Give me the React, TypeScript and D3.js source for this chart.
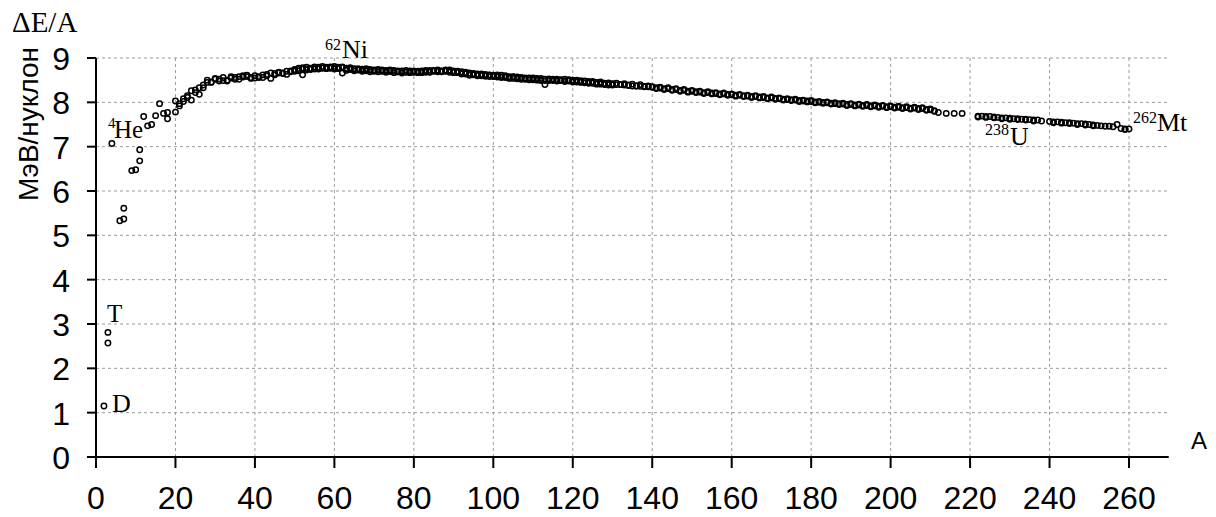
import React from "react";
import * as d3 from "d3";

// Light nuclei (mass number A, binding energy per nucleon, MeV)
const lightA = [2, 3, 3, 4, 6, 7, 7, 9, 10, 11, 11, 12, 13, 14, 15, 16, 17, 18, 18, 20];
const lightE = [1.15, 2.81, 2.57, 7.07, 5.33, 5.61, 5.37, 6.46, 6.48, 6.93, 6.68, 7.68, 7.47, 7.5, 7.7, 7.97, 7.75, 7.77, 7.63, 7.78];

// Main band, one value per A starting at A = 20 (up to A = 211)
const bandStartA = 20;
const bandE = [
  8.03, 7.97, 8.08, 8.11, 8.26, 8.22, 8.33, 8.33, 8.45, 8.45, // 20-29
  8.52, 8.48, 8.49, 8.5, 8.58, 8.52, 8.52, 8.57, 8.61, 8.56, // 30-39
  8.6, 8.58, 8.62, 8.6, 8.66, 8.62, 8.66, 8.66, 8.7, 8.71, // 40-49
  8.74, 8.74, 8.78, 8.76, 8.76, 8.77, 8.79, 8.77, 8.79, 8.78, // 50-59
  8.78, 8.77, 8.8, 8.75, 8.78, 8.74, 8.76, 8.73, 8.76, 8.72, // 60-69
  8.73, 8.72, 8.73, 8.71, 8.73, 8.7, 8.71, 8.69, 8.72, 8.69, // 70-79
  8.71, 8.7, 8.71, 8.7, 8.72, 8.7, 8.71, 8.71, 8.73, 8.71, // 80-89
  8.71, 8.69, 8.69, 8.66, 8.66, 8.64, 8.64, 8.62, 8.63, 8.61, // 90-99
  8.61, 8.6, 8.61, 8.58, 8.58, 8.57, 8.57, 8.55, 8.55, 8.55, // 100-109
  8.55, 8.54, 8.54, 8.52, 8.53, 8.51, 8.52, 8.5, 8.52, 8.5, // 110-119
  8.5, 8.49, 8.49, 8.47, 8.47, 8.45, 8.45, 8.44, 8.43, 8.42, // 120-129
  8.42, 8.4, 8.4, 8.39, 8.38, 8.37, 8.37, 8.36, 8.35, 8.35, // 130-139
  8.34, 8.33, 8.32, 8.31, 8.31, 8.29, 8.29, 8.27, 8.27, 8.25, // 140-149
  8.25, 8.24, 8.23, 8.22, 8.22, 8.21, 8.2, 8.19, 8.19, 8.18, // 150-159
  8.17, 8.16, 8.16, 8.15, 8.14, 8.13, 8.13, 8.12, 8.11, 8.1, // 160-169
  8.1, 8.09, 8.08, 8.07, 8.06, 8.06, 8.05, 8.04, 8.03, 8.03, // 170-179
  8.02, 8.01, 8.0, 8.0, 7.99, 7.98, 7.97, 7.97, 7.96, 7.95, // 180-189
  7.95, 7.94, 7.94, 7.93, 7.93, 7.92, 7.92, 7.91, 7.91, 7.9, // 190-199
  7.9, 7.89, 7.89, 7.88, 7.88, 7.87, 7.87, 7.86, 7.86, 7.84, // 200-209
  7.83, 7.81, // 210-211
];

// Second isobar per A, starting at A = 21 (up to A = 211)
const isobarStartA = 21;
const isobarE = [
  7.92, 8.02, 8.15, 8.05, 8.28, 8.18, 8.39, 8.5, 8.46, // 21-29
  8.54, 8.52, 8.56, 8.48, 8.55, 8.56, 8.58, 8.6, 8.58, 8.54, // 30-39
  8.55, 8.56, 8.56, 8.63, 8.54, 8.65, 8.68, 8.65, 8.63, 8.69, // 40-49
  8.7, 8.71, 8.62, 8.73, 8.77, 8.75, 8.77, 8.78, 8.77, 8.77, // 50-59
  8.75, 8.79, 8.66, 8.77, 8.74, 8.76, 8.73, 8.75, 8.71, 8.74, // 60-69
  8.7, 8.74, 8.7, 8.72, 8.7, 8.72, 8.69, 8.71, 8.68, 8.71, // 70-79
  8.68, 8.69, 8.67, 8.68, 8.69, 8.71, 8.69, 8.7, 8.7, 8.73, // 80-89
  8.69, 8.7, 8.66, 8.68, 8.63, 8.65, 8.62, 8.64, 8.61, 8.62, // 90-99
  8.59, 8.62, 8.58, 8.6, 8.56, 8.58, 8.55, 8.56, 8.53, 8.54, // 100-109
  8.52, 8.53, 8.51, 8.4, 8.51, 8.52, 8.5, 8.51, 8.49, 8.51, // 110-119
  8.48, 8.5, 8.47, 8.48, 8.45, 8.47, 8.44, 8.46, 8.42, 8.44, // 120-129
  8.41, 8.43, 8.4, 8.42, 8.39, 8.41, 8.37, 8.4, 8.36, 8.37, // 130-139
  8.35, 8.31, 8.34, 8.29, 8.33, 8.27, 8.31, 8.25, 8.29, 8.23, // 140-149
  8.27, 8.22, 8.25, 8.2, 8.24, 8.19, 8.22, 8.17, 8.21, 8.16, // 150-159
  8.19, 8.14, 8.18, 8.13, 8.16, 8.11, 8.15, 8.1, 8.13, 8.08, // 160-169
  8.12, 8.07, 8.1, 8.05, 8.08, 8.04, 8.07, 8.02, 8.05, 8.01, // 170-179
  8.04, 7.99, 8.02, 7.98, 8.01, 7.96, 7.99, 7.95, 7.98, 7.93, // 180-189
  7.97, 7.92, 7.96, 7.91, 7.95, 7.9, 7.94, 7.89, 7.93, 7.88, // 190-199
  7.92, 7.87, 7.91, 7.86, 7.9, 7.85, 7.89, 7.84, 7.88, 7.82, // 200-209
  7.85, 7.8, // 210-211
];

// Third isobar set in the dense middle region, starting at A = 50 (up to A = 130)
const thirdStartA = 50;
const thirdE = [
  8.72, 8.77, 8.75, 8.79, 8.74, 8.8, 8.75, 8.81, 8.76, 8.8, // 50-59
  8.81, 8.76, 8.78, 8.72, 8.76, 8.71, 8.74, 8.7, 8.73, 8.69, // 60-69
  8.71, 8.69, 8.71, 8.68, 8.7, 8.67, 8.69, 8.66, 8.69, 8.67, // 70-79
  8.69, 8.67, 8.69, 8.72, 8.68, 8.72, 8.73, 8.69, 8.71, 8.68, // 80-89
  8.67, 8.67, 8.64, 8.64, 8.61, 8.62, 8.6, 8.6, 8.59, 8.58, // 90-99
  8.58, 8.57, 8.56, 8.56, 8.54, 8.54, 8.53, 8.52, 8.52, 8.51, // 100-109
  8.51, 8.5, 8.49, 8.49, 8.49, 8.49, 8.48, 8.49, 8.47, 8.48, // 110-119
  8.46, 8.46, 8.45, 8.44, 8.43, 8.43, 8.41, 8.41, 8.4, 8.39, // 120-129
  8.39, // 130
];

// Sparse and heavy region
const heavyA = [212, 214, 216, 218,
  222, 223, 224, 225, 226, 227, 228, 229, 230, 231, 232, 233, 234, 235, 236, 237, 238, 240,
  241, 242, 243, 244, 245, 246, 247, 248, 249, 250, 251, 252, 253, 254, 255, 256, 257, 258, 259, 260];
const heavyE = [7.77, 7.75, 7.75, 7.75,
  7.69, 7.69, 7.68, 7.68, 7.67, 7.66, 7.65, 7.65, 7.64, 7.63, 7.63, 7.62, 7.62, 7.61, 7.6, 7.6, 7.58, 7.57,
  7.56, 7.56, 7.55, 7.54, 7.54, 7.53, 7.52, 7.52, 7.51, 7.5, 7.49, 7.48, 7.47, 7.46, 7.46, 7.45, 7.5, 7.41, 7.4, 7.4];
const heavyIsoA = [222, 224, 226, 228, 230, 232, 234, 236, 241, 243, 245, 247, 249, 251, 259];
const heavyIsoE = [7.67, 7.66, 7.65, 7.63, 7.62, 7.61, 7.6, 7.58, 7.54, 7.53, 7.52, 7.5, 7.49, 7.47, 7.39];

const xTicks = [0, 20, 40, 60, 80, 100, 120, 140, 160, 180, 200, 220, 240, 260];
const yTicks = [0, 1, 2, 3, 4, 5, 6, 7, 8, 9];

const W = 1216;
const H = 517;

export default function App() {
  const x = d3.scaleLinear().domain([0, 260]).range([96, 1129]);
  const y = d3.scaleLinear().domain([0, 9]).range([457, 58]);

  const pts: [number, number][] = [];
  lightA.forEach((a, i) => pts.push([a, lightE[i]]));
  bandE.forEach((e, i) => pts.push([bandStartA + i, e]));
  isobarE.forEach((e, i) => pts.push([isobarStartA + i, e]));
  thirdE.forEach((e, i) => pts.push([thirdStartA + i, e]));
  heavyA.forEach((a, i) => pts.push([a, heavyE[i]]));
  heavyIsoA.forEach((a, i) => pts.push([a, heavyIsoE[i]]));

  const xEnd = x(270);
  const xStart = x.range()[0] - 9;
  const sans = "'Liberation Sans', Arial, sans-serif";
  const serif = "'Liberation Serif', 'Times New Roman', serif";

  return (
    <svg width={W} height={H} style={{ position: "absolute", left: 0, top: 0, background: "#fff" }}>
      <rect width={W} height={H} fill="#fff" />
      {/* grid */}
      <g stroke="#9a9a9a" strokeWidth={1} strokeDasharray="3,3">
        {yTicks.filter((t) => t > 0).map((t) => (
          <line key={"gy" + t} x1={x(0)} x2={xEnd} y1={y(t)} y2={y(t)} />
        ))}
        {xTicks.filter((t) => t > 0).map((t) => (
          <line key={"gx" + t} x1={x(t)} x2={x(t)} y1={y(9)} y2={y(0)} />
        ))}
      </g>
      {/* axes */}
      <g stroke="#000" strokeWidth={2}>
        <line x1={xStart} x2={xEnd} y1={y(0)} y2={y(0)} />
        <line x1={x(0)} x2={x(0)} y1={y(9)} y2={y(0) + 11} />
        {yTicks.map((t) => (
          <line key={"ty" + t} x1={xStart} x2={x(0)} y1={y(t)} y2={y(t)} />
        ))}
        {xTicks.map((t) => (
          <line key={"tx" + t} x1={x(t)} x2={x(t)} y1={y(0)} y2={y(0) + 11} />
        ))}
      </g>
      {/* tick labels */}
      <g fontFamily={sans} fill="#000">
        {yTicks.map((t) => (
          <text key={"ly" + t} x={70} y={y(t) + 12} fontSize={32} textAnchor="end">{t}</text>
        ))}
        {xTicks.map((t) => (
          <text key={"lx" + t} x={x(t)} y={509} fontSize={32} textAnchor="middle">{t}</text>
        ))}
      </g>
      {/* axis titles */}
      <text x={38} y={124} fontFamily={sans} fontSize={28} textAnchor="middle" transform="rotate(-90 38 124)">МэВ/нуклон</text>
      <text x={1199} y={449} fontFamily={sans} fontSize={24} textAnchor="middle">A</text>
      <text x={12} y={32} fontFamily={serif} fontSize={29}>ΔE/A</text>
      {/* points */}
      <g fill="none" stroke="#000" strokeWidth={1.5}>
        {pts.map((p, i) => (
          <circle key={i} cx={x(p[0])} cy={y(p[1])} r={2.7} />
        ))}
      </g>
      {/* annotations */}
      <g fontFamily={serif} fill="#000">
        <text x={108} y={128} fontSize={15}>4</text>
        <text x={114} y={138} fontSize={25}>He</text>
        <text x={325} y={50} fontSize={16}>62</text>
        <text x={342} y={58} fontSize={26}>Ni</text>
        <text x={985} y={135} fontSize={16}>238</text>
        <text x={1010} y={145} fontSize={26}>U</text>
        <text x={1133} y={123} fontSize={16}>262</text>
        <text x={1157} y={131} fontSize={26}>Mt</text>
        <text x={107} y={322} fontSize={25}>T</text>
        <text x={112} y={412} fontSize={26}>D</text>
      </g>
    </svg>
  );
}
